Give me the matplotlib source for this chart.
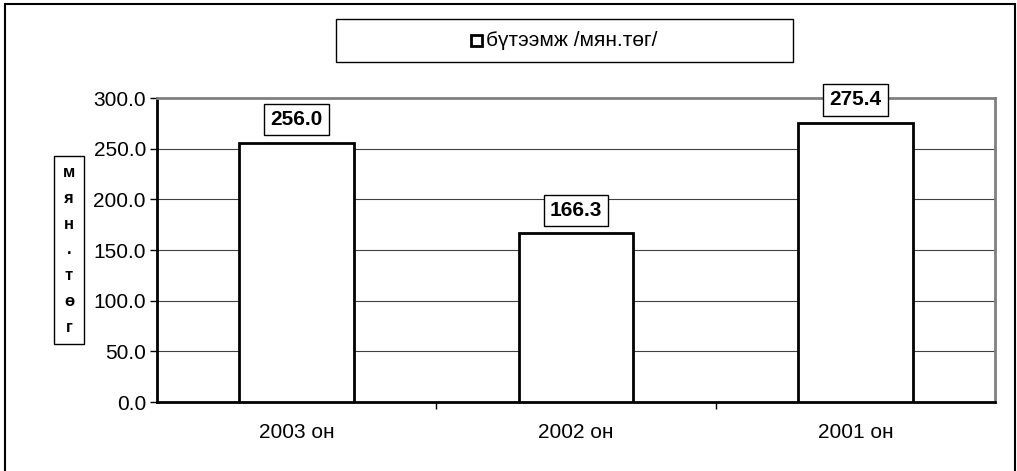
import matplotlib
matplotlib.use("Agg")
import matplotlib.pyplot as plt
from matplotlib.patches import Rectangle
import numpy as np

categories = ["2003 он", "2002 он", "2001 он"]
values = [256.0, 166.3, 275.4]
yticks = [0, 50, 100, 150, 200, 250, 300]
legend_label = "бүтээмж /мян.төг/"
ylabel = "мян.төг"

plt.rcParams['font.family'] = ['Liberation Sans', 'DejaVu Sans']

W, H = 1017, 471
fig = plt.figure(figsize=(W/100, H/100), dpi=100)

def fx(px): return px / W
def fy(py): return 1 - py / H

# outer frame
fig.patches.append(Rectangle((fx(5), fy(480)), fx(1015) - fx(5), fy(4) - fy(480),
                             transform=fig.transFigure, fill=False, edgecolor='black', lw=1.5))

ax = fig.add_axes([fx(157), fy(402), fx(995) - fx(157), fy(98) - fy(402)])
x = np.arange(len(categories))
ax.bar(x, values, width=0.41, color='white', edgecolor='black', linewidth=2, zorder=3)
ax.set_xlim(-0.5, len(categories) - 0.5)
ax.set_ylim(0, 300)
ax.set_yticks(yticks)
ax.set_yticklabels([f"{v:.1f}" for v in yticks], fontsize=15)
ax.yaxis.grid(True, color='#404040', lw=0.8, zorder=0)
ax.set_xticks(x)
ax.set_xticklabels(categories, fontsize=15)
ax.tick_params(axis='x', length=0, pad=15)
ax.set_xticks(np.arange(len(categories) - 1) + 0.5, minor=True)
ax.tick_params(axis='x', which='minor', length=5, direction='out', width=1)
ax.tick_params(axis='y', length=5, direction='out', width=1, pad=3)
for s in ['top', 'right']:
    ax.spines[s].set_color('#808080')
    ax.spines[s].set_linewidth(2)
for s in ['left', 'bottom']:
    ax.spines[s].set_color('black')
    ax.spines[s].set_linewidth(2)

for xi, v in zip(x, values):
    ax.annotate(f"{v:.1f}", (xi, v), xytext=(0, 23), textcoords='offset pixels',
                ha='center', va='center', fontsize=15, fontweight='bold', zorder=5,
                bbox=dict(boxstyle='square,pad=0.3', fc='white', ec='black', lw=1))

# y label box
fig.text(fx(69), fy(250), "\n".join(ylabel), ha='center', va='center', fontsize=12,
         fontweight='bold', linespacing=1.9,
         bbox=dict(boxstyle='square,pad=0.55', fc='white', ec='black', lw=1))

# legend box
fig.patches.append(Rectangle((fx(336), fy(62)), fx(793) - fx(336), fy(19) - fy(62),
                             transform=fig.transFigure, fill=True, facecolor='white',
                             edgecolor='black', lw=1))
fig.patches.append(Rectangle((fx(471), fy(46)), fx(482) - fx(471), fy(35) - fy(46),
                             transform=fig.transFigure, fill=False, edgecolor='black', lw=2))
fig.text(fx(486), fy(40.5), legend_label, ha='left', va='center', fontsize=15)

fig.savefig("out.png", dpi=100)
